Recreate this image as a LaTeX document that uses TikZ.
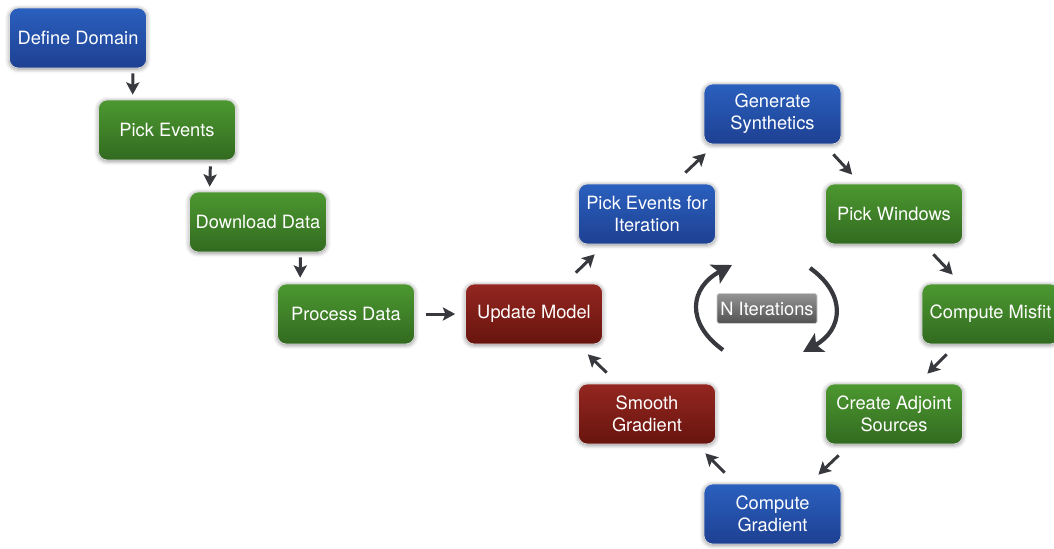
\documentclass[tikz,border=0pt]{standalone}
\usepackage{fontspec}
\setmainfont{TeX Gyre Heros}
\usepackage{tikz}
\usetikzlibrary{arrows.meta, positioning, calc, shadows.blur}

\definecolor{boxbluetop}{RGB}{42, 96, 190}
\definecolor{boxbluebot}{RGB}{30, 64, 146}
\definecolor{boxgreentop}{RGB}{76, 152, 48}
\definecolor{boxgreenbot}{RGB}{50, 106, 32}
\definecolor{boxredtop}{RGB}{148, 38, 32}
\definecolor{boxredbot}{RGB}{104, 20, 14}
\definecolor{arrowgray}{RGB}{55, 57, 62}

\tikzset{
  box/.style={rounded corners=5pt, minimum width=2.74cm, minimum height=1.2cm,
    align=center, text=white, inner sep=2pt, draw=white!85!black, line width=0.4pt,
    font=\fontsize{10.4}{12.5}\selectfont,
    blur shadow={shadow xshift=0pt, shadow yshift=-0.6pt, shadow blur radius=2.5pt, shadow opacity=45}},
  bluebox/.style={box, top color=boxbluetop, bottom color=boxbluebot},
  greenbox/.style={box, top color=boxgreentop, bottom color=boxgreenbot},
  redbox/.style={box, top color=boxredtop, bottom color=boxredbot},
  arr/.style={draw=arrowgray, line width=1.7pt, -{Stealth[length=7pt, width=7.5pt, inset=1.5pt]}},
  looparr/.style={draw=arrowgray, line width=2.4pt, -{Stealth[length=11pt, width=12pt, inset=2.5pt]}},
  iterlabel/.style={rounded corners=1pt, top color=black!42, bottom color=black!68,
    draw=white!80!black, text=white, minimum width=2cm, minimum height=0.6cm,
    inner sep=1pt, font=\fontsize{10.4}{12.5}\selectfont}
}

\begin{document}
\begin{tikzpicture}
  \useasboundingbox (0,0) rectangle (21.08,-10.96);

  % setup chain
  \node[bluebox] (domain) at (1.56, -0.76) {Define Domain};
  \node[greenbox] (events) at (3.34, -2.60) {Pick Events};
  \node[greenbox] (download) at (5.16, -4.44) {Download Data};
  \node[greenbox] (process) at (6.92, -6.28) {Process Data};

  % iteration loop
  \node[redbox] (update) at (10.68, -6.28) {Update Model};
  \node[bluebox] (iterevents) at (12.94, -4.28) {Pick Events for\\Iteration};
  \node[bluebox] (synth) at (15.45, -2.28) {Generate\\Synthetics};
  \node[greenbox] (windows) at (17.88, -4.28) {Pick Windows};
  \node[greenbox] (misfit) at (19.81, -6.28) {Compute Misfit};
  \node[greenbox] (adjoint) at (17.88, -8.28) {Create Adjoint\\Sources};
  \node[bluebox] (gradient) at (15.45, -10.28) {Compute\\Gradient};
  \node[redbox] (smooth) at (12.94, -8.28) {Smooth\\Gradient};

  % connectors
  \draw[arr] ([shift={(-0.28,-0.10)}]domain.south east) -- ([shift={(0.69,0.10)}]events.north west);
  \draw[arr] ([shift={(-0.51,-0.12)}]events.south east) -- ([shift={(0.41,0.10)}]download.north west);
  \draw[arr] ([shift={(-0.53,-0.10)}]download.south east) -- ([shift={(0.46,0.12)}]process.north west);
  \draw[arr] ([xshift=0.22cm]process.east) -- ([xshift=-0.20cm]update.west);
  \draw[arr] ([shift={(-0.54,0.22)}]update.north east) -- ([shift={(0.33,-0.20)}]iterevents.south west);
  \draw[arr] ([shift={(-0.61,0.22)}]iterevents.north east) -- ([shift={(0.04,-0.18)}]synth.south west);
  \draw[arr] ([shift={(-0.16,-0.20)}]synth.south east) -- ([shift={(0.54,0.18)}]windows.north west);
  \draw[arr] ([shift={(-0.59,-0.20)}]windows.south east) -- ([shift={(0.62,0.18)}]misfit.north west);
  \draw[arr] ([shift={(0.50,-0.20)}]misfit.south west) -- ([shift={(-0.71,0.20)}]adjoint.north east);
  \draw[arr] ([shift={(0.27,-0.22)}]adjoint.south west) -- ([shift={(-0.46,0.18)}]gradient.north east);
  \draw[arr] ([shift={(0.42,0.22)}]gradient.north west) -- ([shift={(-0.21,-0.18)}]smooth.south east);
  \draw[arr] ([shift={(0.57,0.22)}]smooth.north west) -- ([shift={(-0.30,-0.20)}]update.south east);

  % N iterations
  \node[iterlabel] (niter) at (15.34, -6.17) {N Iterations};
  \draw[looparr] (14.46, -7.00) .. controls (13.70, -6.45) and (13.80, -5.75) .. (14.64, -5.30);
  \draw[looparr] (16.20, -5.36) .. controls (16.95, -5.90) and (16.85, -6.60) .. (16.06, -7.04);
\end{tikzpicture}
\end{document}
